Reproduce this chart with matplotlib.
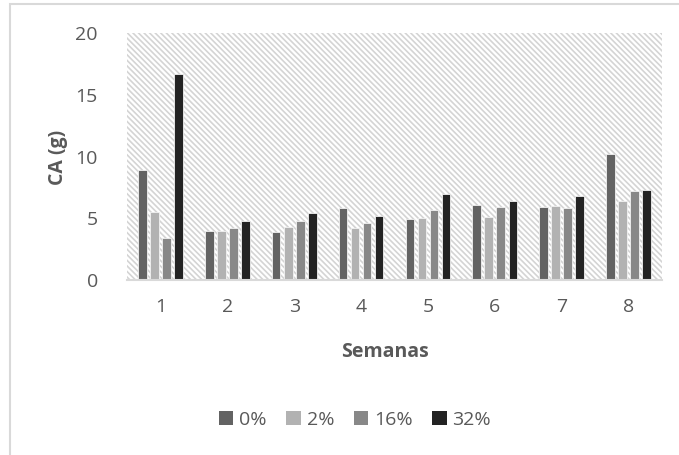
import numpy as np
import matplotlib
matplotlib.use('Agg')
import matplotlib.pyplot as plt
from matplotlib.patches import Rectangle, Patch

plt.rcParams['font.family'] = ['Open Sans', 'DejaVu Sans']
plt.rcParams['hatch.linewidth'] = 1.2

weeks = ['1', '2', '3', '4', '5', '6', '7', '8']
series = ['0%', '2%', '16%', '32%']
ca_0 = [8.9, 4.0, 3.9, 5.8, 4.9, 6.1, 5.9, 10.2]
ca_2 = [5.5, 4.0, 4.3, 4.2, 5.0, 5.1, 6.0, 6.4]
ca_16 = [3.4, 4.2, 4.8, 4.6, 5.7, 5.9, 5.8, 7.2]
ca_32 = [16.7, 4.8, 5.4, 5.2, 7.0, 6.4, 6.8, 7.3]
values = [ca_0, ca_2, ca_16, ca_32]
colors = ['#636363', '#b2b2b2', '#888888', '#232323']

text_color = '#595959'
W, H = 679, 455
fig = plt.figure(figsize=(W / 100, H / 100), dpi=100)

# chart frame (light gray border)
fig.patches.append(Rectangle((10 / W, -0.1), 1.0, 1.1 - 4 / H, transform=fig.transFigure,
                             fc='none', ec='#d9d9d9', lw=1.5, zorder=0))

left, right, top, bottom = 127, 662, 33, 280
ax = fig.add_axes([left / W, 1 - bottom / H, (right - left) / W, (bottom - top) / H])
ax.set_facecolor('white')

# fine diagonal stripe pattern behind the bars
ax.add_patch(Rectangle((0, 0), 1, 1, transform=ax.transAxes, fc='none', ec='#d4d4d4',
                       lw=0, hatch='\\' * 6, zorder=0))

x = np.arange(len(weeks))
offsets = [-0.27, -0.09, 0.09, 0.27]
for vals, off, c in zip(values, offsets, colors):
    ax.bar(x + off, vals, width=0.13, color=c, edgecolor='#f2f2f2', lw=0.6, zorder=2)

ax.set_xlim(-0.5, len(weeks) - 0.5)
ax.set_ylim(0, 20)
ax.set_yticks([0, 5, 10, 15, 20])
ax.set_xticks(x)
ax.set_xticklabels(weeks)
for s in ['top', 'right', 'left']:
    ax.spines[s].set_visible(False)
ax.spines['bottom'].set_color('#d9d9d9')
ax.spines['bottom'].set_linewidth(1.5)
ax.spines['bottom'].set_zorder(3)
ax.tick_params(length=0, labelsize=14, colors=text_color)
ax.tick_params(axis='y', pad=21)
ax.tick_params(axis='x', pad=13)

fig.text(58 / W, 1 - 157 / H, 'CA (g)', rotation=90, ha='center', va='center',
         fontsize=14, fontweight='bold', color=text_color)
fig.text(385 / W, 1 - 352 / H, 'Semanas', ha='center', va='center',
         fontsize=14, fontweight='bold', color=text_color)

handles = [Patch(fc=c, ec='none') for c in colors]
leg = fig.legend(handles, series, loc='center', bbox_to_anchor=(355 / W, 1 - 420 / H),
                 ncol=4, frameon=False, fontsize=14, handlelength=0.75, handleheight=0.75,
                 handletextpad=0.3, columnspacing=1.0, labelcolor=text_color)

fig.savefig('out.png', dpi=100, facecolor='white')
